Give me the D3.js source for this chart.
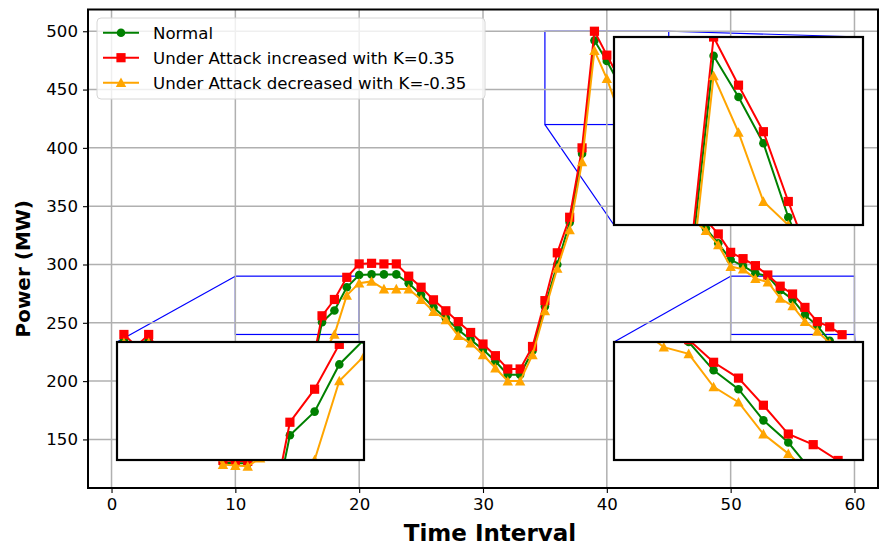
<!DOCTYPE html>
<html>
<head>
<meta charset="utf-8">
<title>Power under attack</title>
<script src="https://d3js.org/d3.v7.min.js"></script>
<style>
  body { margin: 0; background: #fff; }
  svg { font-family: "DejaVu Sans", sans-serif; display: block; }
</style>
</head>
<body>
<div id="chart"></div>
<script>
// ---- data ----
const timeInterval = d3.range(1, 60);   // 1 .. 59
const normal = [235, 226, 235, 218, 200, 183, 166, 146, 130, 129.5,
                129.5, 136, 145, 158, 176, 199, 250.5, 260.5, 280.5, 291,
                291.5, 291.5, 291.5, 284, 274, 263.2, 254, 244, 235.4, 227,
                217, 205.5, 205.5, 226, 264, 300, 336, 395, 492, 474.5,
                454.8, 423.3, 398, 383, 369, 355, 343, 331, 318.2, 304,
                298.8, 292.5, 290, 278, 270, 256.8, 247.4, 234.5, 228];
const increased = [240, 230, 240, 222, 205, 188, 170, 150, 132, 131.5,
                   131.3, 140, 148, 162, 180, 203, 256, 270, 289, 300.5,
                   301, 300.5, 300.5, 290, 280.5, 269.7, 260.3, 251, 241.7, 231.8,
                   221.8, 210.4, 210.4, 229.7, 269, 310, 340.5, 400, 500, 479.5,
                   459.7, 430, 402, 388, 374, 361, 349, 338, 326.2, 310.4,
                   305, 299, 291, 281.4, 274.7, 263.2, 251, 246.5, 239.8];
const decreased = [233, 222, 233, 214, 196, 179, 162, 143, 128.5, 127.6,
                   127, 134, 142, 152, 168, 192, 222, 240, 273.5, 284,
                   285.5, 279, 279, 279, 270, 259.7, 252.6, 239, 232.6, 222.6,
                   211.2, 200, 200, 222.6, 260.3, 296.8, 329.6, 388, 483.5, 459.4,
                   430, 420, 392, 377, 362, 349, 338, 329, 316.8, 298.2,
                   296, 287.8, 285, 271, 264.5, 251, 242.7, 232.6, 222];
const seriesLabels = ["Normal",
                      "Under Attack increased with K=0.35",
                      "Under Attack decreased with K=-0.35"];
const xTickValues = [0, 10, 20, 30, 40, 50, 60];
const yTickValues = [150, 200, 250, 300, 350, 400, 450, 500];
// zoomed windows of the three insets
const zoomX = [[10, 20], [35, 45], [50, 60]];
const zoomY = [[240, 290], [420, 500], [240, 290]];

// ---- layout ----
const W = 880, H = 545;
const plot = { left: 88, top: 9.5, right: 878, bottom: 488 };
// inset boxes in page pixels, and which corners get connectors
const insetBoxes = [
  { x0: 117, y0: 342, x1: 364, y1: 460, corners: [["l", "t"], ["r", "b"]] },
  { x0: 614, y0: 37,  x1: 863, y1: 225, corners: [["l", "b"], ["r", "t"]] },
  { x0: 614, y0: 342, x1: 863, y1: 460, corners: [["l", "t"], ["r", "b"]] }
];

const series = [
  { name: seriesLabels[0], values: normal,    color: "green",   marker: "circle" },
  { name: seriesLabels[1], values: increased, color: "#ff0000", marker: "square" },
  { name: seriesLabels[2], values: decreased, color: "orange",  marker: "triangle" }
];

const allVals = normal.concat(increased, decreased);
const xExt = d3.extent(timeInterval), yExt = d3.extent(allVals);
const xPad = (xExt[1] - xExt[0]) * 0.05, yPad = (yExt[1] - yExt[0]) * 0.05;

const x = d3.scaleLinear().domain([xExt[0] - xPad, xExt[1] + xPad]).range([plot.left, plot.right]);
const y = d3.scaleLinear().domain([yExt[0] - yPad, yExt[1] + yPad]).range([plot.bottom, plot.top]);

const svg = d3.select("#chart").append("svg")
  .attr("width", W).attr("height", H);

svg.append("rect").attr("width", W).attr("height", H).attr("fill", "white");

const defs = svg.append("defs");
defs.append("clipPath").attr("id", "clip-main")
  .append("rect")
  .attr("x", plot.left).attr("y", plot.top)
  .attr("width", plot.right - plot.left).attr("height", plot.bottom - plot.top);

// marker shapes
function drawMarkers(g, s, xs, ys) {
  const pts = g.selectAll(null).data(s.values.map((v, i) => [timeInterval[i], v])).enter();
  if (s.marker === "circle") {
    pts.append("circle").attr("cx", d => xs(d[0])).attr("cy", d => ys(d[1]))
      .attr("r", 4.3).attr("fill", s.color);
  } else if (s.marker === "square") {
    pts.append("rect").attr("x", d => xs(d[0]) - 4.6).attr("y", d => ys(d[1]) - 4.6)
      .attr("width", 9.2).attr("height", 9.2).attr("fill", s.color);
  } else {
    pts.append("path")
      .attr("transform", d => `translate(${xs(d[0])},${ys(d[1])})`)
      .attr("d", "M0,-5.2L5.2,4.4L-5.2,4.4Z").attr("fill", s.color);
  }
}
function drawSeries(g, xs, ys) {
  series.forEach(s => {
    const line = d3.line().x((d, i) => xs(timeInterval[i])).y(d => ys(d));
    g.append("path").datum(s.values)
      .attr("d", line).attr("fill", "none")
      .attr("stroke", s.color).attr("stroke-width", 2);
    drawMarkers(g, s, xs, ys);
  });
}

// ---- inset indicators (under the grid, as in matplotlib) ----
const ind = svg.append("g").attr("stroke", "blue").attr("stroke-width", 1.2).attr("fill", "none");
zoomX.forEach((zx, k) => {
  const zy = zoomY[k], b = insetBoxes[k];
  ind.append("rect")
    .attr("x", x(zx[0])).attr("y", y(zy[1]))
    .attr("width", x(zx[1]) - x(zx[0])).attr("height", y(zy[0]) - y(zy[1]));
  b.corners.forEach(c => {
    const px = c[0] === "l" ? x(zx[0]) : x(zx[1]);
    const py = c[1] === "t" ? y(zy[1]) : y(zy[0]);
    const qx = c[0] === "l" ? b.x0 : b.x1;
    const qy = c[1] === "t" ? b.y0 : b.y1;
    ind.append("line").attr("x1", px).attr("y1", py).attr("x2", qx).attr("y2", qy);
  });
});

// ---- grid ----
const grid = svg.append("g").attr("stroke", "#b0b0b0").attr("stroke-width", 1.5);
xTickValues.forEach(t => grid.append("line")
  .attr("x1", x(t)).attr("x2", x(t)).attr("y1", plot.top).attr("y2", plot.bottom));
yTickValues.forEach(t => grid.append("line")
  .attr("x1", plot.left).attr("x2", plot.right).attr("y1", y(t)).attr("y2", y(t)));

// ---- data ----
drawSeries(svg.append("g").attr("clip-path", "url(#clip-main)"), x, y);

// ---- axes ----
const xAxis = svg.append("g").attr("transform", `translate(0,${plot.bottom})`)
  .call(d3.axisBottom(x).tickValues(xTickValues).tickSize(5).tickPadding(5).tickSizeOuter(0));
const yAxis = svg.append("g").attr("transform", `translate(${plot.left},0)`)
  .call(d3.axisLeft(y).tickValues(yTickValues).tickSize(5).tickPadding(5).tickSizeOuter(0));
[xAxis, yAxis].forEach(a => {
  a.select(".domain").remove();
  a.selectAll(".tick line").attr("stroke", "black").attr("stroke-width", 1.1);
  a.selectAll(".tick text").attr("fill", "black")
    .style("font-size", "16.6px").style("font-family", "'DejaVu Sans', sans-serif");
});

svg.append("rect")
  .attr("x", plot.left).attr("y", plot.top)
  .attr("width", plot.right - plot.left).attr("height", plot.bottom - plot.top)
  .attr("fill", "none").attr("stroke", "black").attr("stroke-width", 2);

svg.append("text")
  .attr("x", (plot.left + plot.right) / 2 + 7).attr("y", 541)
  .attr("text-anchor", "middle")
  .style("font-size", "23px").style("font-weight", "bold")
  .text("Time Interval");

svg.append("text")
  .attr("transform", `translate(30,${(plot.top + plot.bottom) / 2 + 20}) rotate(-90)`)
  .attr("text-anchor", "middle")
  .style("font-size", "20px").style("font-weight", "bold")
  .text("Power (MW)");

// ---- legend ----
const legend = svg.append("g").attr("transform", "translate(97,18)");
legend.append("rect")
  .attr("width", 388).attr("height", 81).attr("rx", 4)
  .attr("fill", "white").attr("fill-opacity", 0.8)
  .attr("stroke", "#d6d6d6").attr("stroke-width", 1);
series.forEach((s, i) => {
  const gy = 14.7 + i * 25;
  const g = legend.append("g");
  g.append("line").attr("x1", 6).attr("x2", 42).attr("y1", gy).attr("y2", gy)
    .attr("stroke", s.color).attr("stroke-width", 2);
  drawMarkers(g, { values: [0], color: s.color, marker: s.marker },
    () => 24, () => gy);
  g.append("text").attr("x", 56).attr("y", gy + 6)
    .style("font-size", "16.6px").text(s.name);
});

// ---- insets ----
insetBoxes.forEach((b, k) => {
  const ix = d3.scaleLinear().domain(zoomX[k]).range([b.x0, b.x1]);
  const iy = d3.scaleLinear().domain(zoomY[k]).range([b.y1, b.y0]);
  const id = "clip-inset-" + k;
  defs.append("clipPath").attr("id", id).append("rect")
    .attr("x", b.x0).attr("y", b.y0).attr("width", b.x1 - b.x0).attr("height", b.y1 - b.y0);
  svg.append("rect").attr("x", b.x0).attr("y", b.y0)
    .attr("width", b.x1 - b.x0).attr("height", b.y1 - b.y0).attr("fill", "white");
  drawSeries(svg.append("g").attr("clip-path", `url(#${id})`), ix, iy);
  svg.append("rect").attr("x", b.x0).attr("y", b.y0)
    .attr("width", b.x1 - b.x0).attr("height", b.y1 - b.y0)
    .attr("fill", "none").attr("stroke", "black").attr("stroke-width", 2.2);
});
</script>
</body>
</html>
